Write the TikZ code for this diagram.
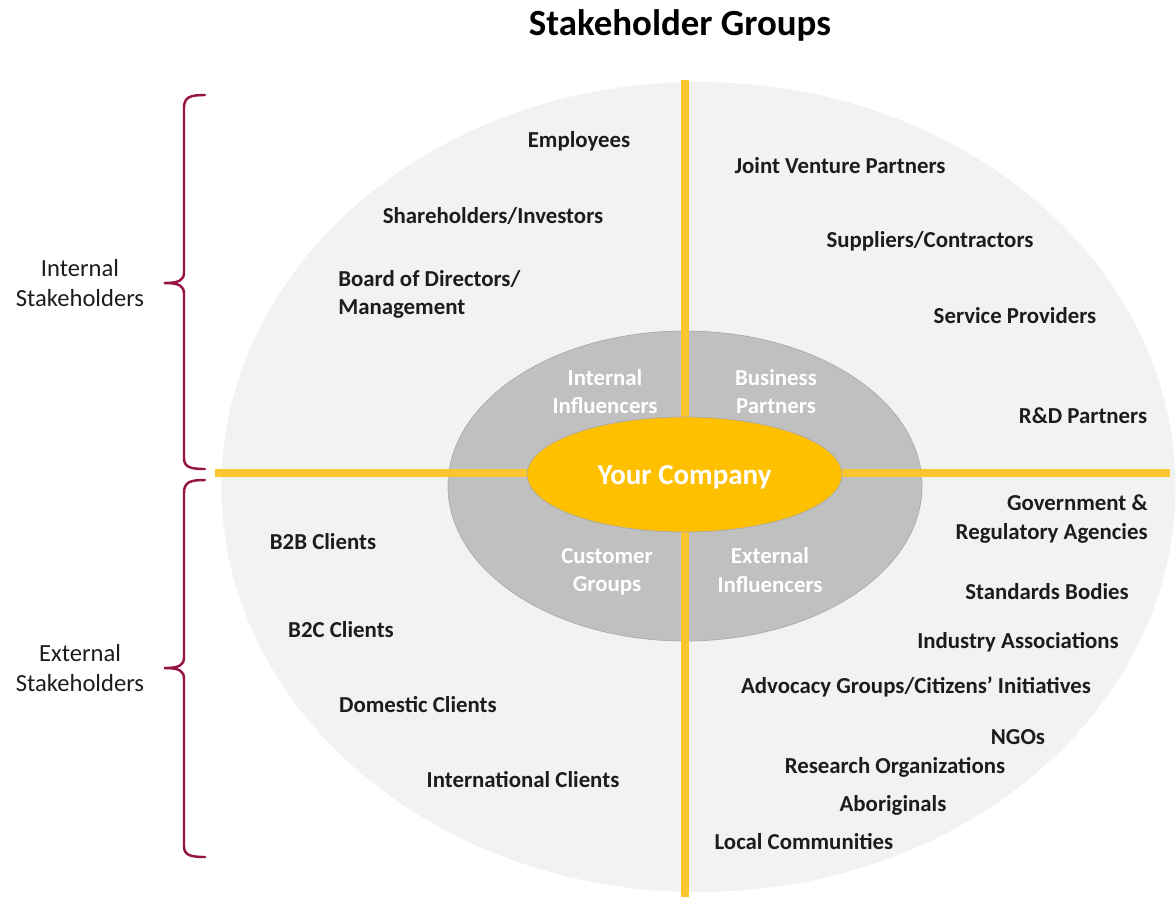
\documentclass[tikz,border=0pt]{standalone}
\usepackage{fontspec}
\setmainfont{Carlito}
\usepackage{xcolor}
\usepackage{tikz}
\usetikzlibrary{calc}

\definecolor{outergray}{RGB}{242,242,242}
\definecolor{innergray}{RGB}{192,192,192}
\definecolor{rimgray}{RGB}{170,170,170}
\definecolor{compyellow}{RGB}{255,192,0}
\definecolor{lineyellow}{RGB}{250,198,48}
\definecolor{bracered}{RGB}{150,20,70}
\definecolor{labeltext}{RGB}{28,28,28}

\tikzset{
	group/.style={font=\fontsize{13}{16}\selectfont\bfseries,text=labeltext,inner sep=0pt},
	influencer/.style={font=\fontsize{13}{16}\selectfont\bfseries,text=white,align=center,inner sep=0pt},
	sidelabel/.style={font=\fontsize{14}{17}\selectfont,text=labeltext,align=center,inner sep=0pt},
	bracket/.style={draw=bracered,line width=1.4pt,line cap=round},
	axisline/.style={draw=lineyellow,line width=4pt}
}

\begin{document}
\begin{tikzpicture}[x=0.02cm,y=-0.02cm]
		\useasboundingbox (0,0) rectangle (1176,897);
		\fill[outergray] (698.5,487) ellipse (477 and 405);
		\filldraw[fill=innergray,draw=rimgray,thin] (685,486) ellipse (237 and 155);
		\coordinate (hleft) at (215,473);
		\coordinate (hright) at (1170,473);
		\coordinate (vtop) at (685,80);
		\coordinate (vbottom) at (685,897);
		\draw[axisline] (hleft) -- (hright);
		\draw[axisline] (vtop) -- (vbottom);
		\filldraw[fill=compyellow,draw=rimgray,thin] (684.5,474.5) ellipse (157.5 and 57.5);
		\node (company) at (684.5,477) {\fontsize{16.5}{20}\selectfont\bfseries\textcolor{white}{Your Company}};
		\node (title) at (680,25) {\fontsize{21}{25}\selectfont\bfseries\textcolor{black}{Stakeholder Groups}};
		\node[influencer] (internal) at (605,392) {Internal\\Influencers};
		\node[influencer] (business) at (776,392) {Business\\Partners};
		\node[influencer] (customer) at (607,572) {Customer\\Groups};
		\node[influencer] (external) at (770,570) {External\\Influencers};
		\node[group] (employees) at (579,141) {Employees};
		\node[group] (shareholders) at (493,216) {Shareholders/Investors};
		\node[group,align=left,anchor=west] (board) at (338,294) {Board of Directors/\\Management};
		\node[group] (jointventure) at (840,166) {Joint Venture Partners};
		\node[group] (suppliers) at (930,241) {Suppliers/Contractors};
		\node[group] (service) at (1015,316) {Service Providers};
		\node[group] (rnd) at (1083,416) {R\&D Partners};
		\node[group,align=right,anchor=east] (government) at (1148,519) {Government \&\\Regulatory Agencies};
		\node[group] (standards) at (1047,592) {Standards Bodies};
		\node[group] (industry) at (1018,642) {Industry Associations};
		\node[group] (advocacy) at (916,687) {Advocacy Groups/Citizens’ Initiatives};
		\node[group] (ngos) at (1018,737) {NGOs};
		\node[group] (research) at (895,767) {Research Organizations};
		\node[group] (aboriginals) at (893,805) {Aboriginals};
		\node[group] (local) at (804,842) {Local Communities};
		\node[group] (btob) at (323,542) {B2B Clients};
		\node[group] (btoc) at (341,630) {B2C Clients};
		\node[group] (domestic) at (418,705) {Domestic Clients};
		\node[group] (international) at (523,780) {International Clients};
		\node[sidelabel] (intlabel) at (80,283) {Internal\\Stakeholders};
		\node[sidelabel] (extlabel) at (80,668) {External\\Stakeholders};
		\coordinate (ibtop) at (205,95);
		\coordinate (ibtip) at (164,283);
		\coordinate (ibbottom) at (205,469);
		\coordinate (ebtop) at (205,480);
		\coordinate (ebtip) at (164,668);
		\coordinate (ebbottom) at (205,857);
		\draw[bracket] (ibtop) .. controls (190,95) and (184,97) .. (184,108) -- (184,272) .. controls (184,280) and (180,283) .. (ibtip) .. controls (180,283) and (184,286) .. (184,294) -- (184,458) .. controls (184,467) and (190,469) .. (ibbottom);
		\draw[bracket] (ebtop) .. controls (190,480) and (184,482) .. (184,493) -- (184,657) .. controls (184,665) and (180,668) .. (ebtip) .. controls (180,668) and (184,671) .. (184,679) -- (184,846) .. controls (184,855) and (190,857) .. (ebbottom);
	\end{tikzpicture}
\end{document}
